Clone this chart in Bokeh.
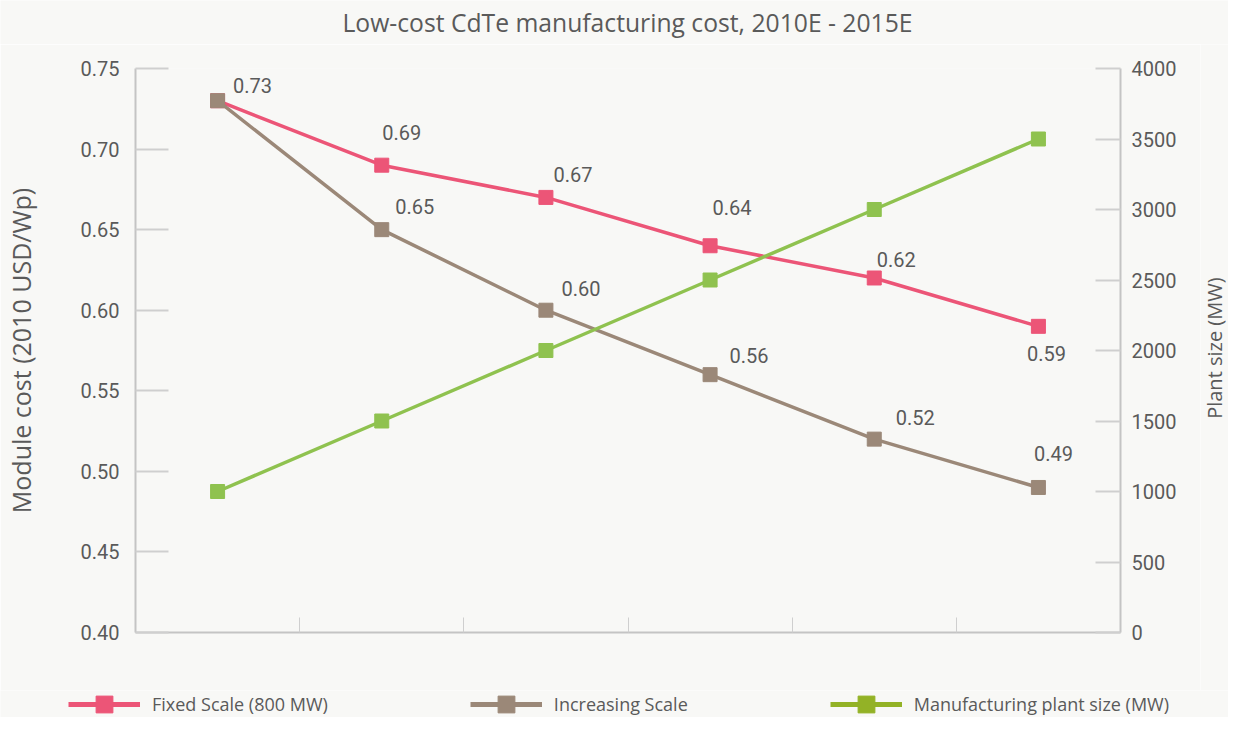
from bokeh.plotting import figure
from bokeh.layouts import column, row
from bokeh.models import (Range1d, LinearAxis, FixedTicker, PrintfTickFormatter,
                          ColumnDataSource, Legend, LegendItem)
from bokeh.core.properties import value
from bokeh.embed import file_html
from bokeh.resources import INLINE
import math

# ---------------- data ----------------
years = ["2010E", "2011E", "2012E", "2013E", "2014E", "2015E"]
fixed_scale = [0.73, 0.69, 0.67, 0.64, 0.62, 0.59]
increasing_scale = [0.73, 0.65, 0.60, 0.56, 0.52, 0.49]
plant_size = [1000, 1500, 2000, 2500, 3000, 3500]
left_ticks = [0.40, 0.45, 0.50, 0.55, 0.60, 0.65, 0.70, 0.75]
right_ticks = [0, 500, 1000, 1500, 2000, 2500, 3000, 3500, 4000]
title_text = "Low-cost CdTe manufacturing cost, 2010E - 2015E"
left_title = "Module cost (2010 USD/Wp)"
right_title = "Plant size (MW)"
series_names = ["Fixed Scale (800 MW)", "Increasing Scale",
                "Manufacturing plant size (MW)"]

# ---------------- styles ----------------
PINK = "#ec5577"
BROWN = "#9b8878"
GREEN = "#8fc24f"
GREEN_LEG = "#93b226"
BG = "#f8f8f6"
TXT = "#5a5a5a"
NUM_FONT = "Roboto"
TXT_FONT = "Open Sans"
W = 1228
RSTRIP_W = 28
HEAD_H, CHART_H, LEG_H = 44, 646, 27
# label offsets (screen px) for data labels
fixed_off = [(35, -15), (20, -33), (27, -23), (22, -38), (22, -18), (8, 27)]
incr_off = [(0, 0), (33, -23), (35, -22), (39, -19), (41, -22), (15, -34)]

xs = [i + 0.5 for i in range(len(years))]


def no_align(f):
    try:
        f.frame_align = False
    except Exception:
        pass


def blank(width, height):
    f = figure(width=width, height=height, output_backend="svg",
               toolbar_location=None, x_range=Range1d(0, width),
               y_range=Range1d(0, 1), min_border=0,
               x_axis_type=None, y_axis_type=None)
    f.background_fill_color = BG
    f.border_fill_color = BG
    f.outline_line_color = None
    f.xgrid.visible = False
    f.ygrid.visible = False
    no_align(f)
    return f


# ---------------- header (title) ----------------
head = blank(W, HEAD_H)
head.text(x=[627], y=[0.5], text=[title_text], text_align="center",
          text_baseline="middle", text_font=value(TXT_FONT),
          text_font_size="24.7px", text_color=TXT)

# ---------------- chart ----------------
p = figure(width=W - RSTRIP_W, height=CHART_H, output_backend="svg",
           toolbar_location=None,
           x_range=Range1d(0, len(years)), y_range=Range1d(0.40, 0.75),
           min_border_left=134, min_border_right=80, min_border_top=24,
           min_border_bottom=58, x_axis_type=None, y_axis_type=None)
p.background_fill_color = BG
p.border_fill_color = BG
p.outline_line_color = None
p.xgrid.visible = False
p.ygrid.visible = False
p.extra_y_ranges = {"mw": Range1d(0, 4000)}
no_align(p)

yl = LinearAxis(ticker=FixedTicker(ticks=left_ticks),
                formatter=PrintfTickFormatter(format="%.2f"),
                axis_label=left_title)
yl.major_tick_in = 33
yl.major_tick_out = 0
yl.minor_tick_line_color = None
yl.axis_line_color = "#c4c4c4"
yl.axis_line_width = 2
yl.major_tick_line_color = "#cfcfcf"
yl.major_tick_line_width = 2
yl.major_label_standoff = 16
yl.major_label_text_font = NUM_FONT
yl.major_label_text_font_size = "20px"
yl.major_label_text_color = TXT
yl.axis_label_text_font = TXT_FONT
yl.axis_label_text_font_size = "25px"
yl.axis_label_text_font_style = "normal"
yl.axis_label_text_color = TXT
yl.axis_label_standoff = 40
p.add_layout(yl, "left")

yr = LinearAxis(y_range_name="mw", ticker=FixedTicker(ticks=right_ticks),
                formatter=PrintfTickFormatter(format="%d"))
yr.major_tick_in = 25
yr.major_tick_out = 0
yr.minor_tick_line_color = None
yr.axis_line_color = "#c4c4c4"
yr.axis_line_width = 2
yr.major_tick_line_color = "#cfcfcf"
yr.major_tick_line_width = 2
yr.major_label_standoff = 11
yr.major_label_text_font = NUM_FONT
yr.major_label_text_font_size = "20px"
yr.major_label_text_color = TXT
p.add_layout(yr, "right")

xb = LinearAxis(ticker=FixedTicker(ticks=list(range(len(years) + 1))))
xb.major_tick_in = 15
xb.major_tick_out = 0
xb.minor_tick_line_color = None
xb.axis_line_color = "#c4c4c4"
xb.axis_line_width = 2
xb.major_tick_line_color = "#cfcfcf"
xb.major_tick_line_width = 1
xb.major_label_standoff = 0
xb.major_label_text_font_size = "1px"
xb.major_label_text_color = None
p.add_layout(xb, "below")

src_f = ColumnDataSource(dict(x=xs, y=fixed_scale))
src_i = ColumnDataSource(dict(x=xs, y=increasing_scale))
src_p = ColumnDataSource(dict(x=xs, y=plant_size))

LW = 3.5
p.line("x", "y", source=src_f, color=PINK, line_width=LW)
p.scatter("x", "y", source=src_f, marker="square", size=14, color=PINK)
p.line("x", "y", source=src_i, color=BROWN, line_width=LW)
p.scatter("x", "y", source=src_i, marker="square", size=14, color=BROWN)
p.line("x", "y", source=src_p, y_range_name="mw", color=GREEN, line_width=LW)
p.scatter("x", "y", source=src_p, y_range_name="mw", marker="square", size=14,
          color=GREEN)

lab_f = ColumnDataSource(dict(
    x=xs, y=fixed_scale, t=["%.2f" % v for v in fixed_scale],
    dx=[o[0] for o in fixed_off], dy=[o[1] for o in fixed_off]))
p.text("x", "y", text="t", source=lab_f, x_offset="dx", y_offset="dy",
       text_align="center", text_baseline="middle", text_font_size="20px",
       text_font=value(NUM_FONT), text_color=TXT)
lab_i = ColumnDataSource(dict(
    x=xs[1:], y=increasing_scale[1:], t=["%.2f" % v for v in increasing_scale[1:]],
    dx=[o[0] for o in incr_off[1:]], dy=[o[1] for o in incr_off[1:]]))
p.text("x", "y", text="t", source=lab_i, x_offset="dx", y_offset="dy",
       text_align="center", text_baseline="middle", text_font_size="20px",
       text_font=value(NUM_FONT), text_color=TXT)

# ---------------- right axis title strip ----------------
rs = blank(RSTRIP_W, CHART_H)
rs.text(x=[14], y=[0.53], text=[right_title], angle=math.pi / 2,
        text_align="center", text_baseline="middle",
        text_font=value(TXT_FONT), text_font_size="20px", text_color=TXT)

# ---------------- legend strip ----------------
lf = blank(W, LEG_H)
NAN = float("nan")


def leg_pair(color):
    l = lf.line([NAN], [NAN], color=color, line_width=5)
    s = lf.scatter([NAN], [NAN], marker="square", size=17, color=color)
    return [l, s]


legend = Legend(items=[
    LegendItem(label=series_names[0], renderers=leg_pair(PINK)),
    LegendItem(label=series_names[1], renderers=leg_pair(BROWN)),
    LegendItem(label=series_names[2], renderers=leg_pair(GREEN_LEG)),
], orientation="horizontal", location=(68, -8), glyph_width=72,
    glyph_height=42, label_height=16, label_standoff=12, spacing=142,
    padding=0, margin=0, border_line_color=None, background_fill_alpha=0,
    label_text_font=TXT_FONT, label_text_font_size="18px", label_text_color=TXT)
lf.add_layout(legend, "center")

layout = column(head, row(p, rs, spacing=0), lf, spacing=0)
open("out.html", "w").write(file_html(layout, INLINE))
